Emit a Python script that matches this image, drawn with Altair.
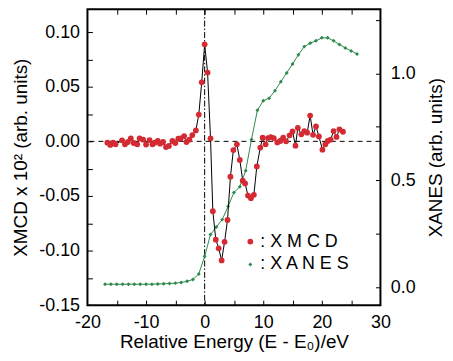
import altair as alt
import pandas as pd

# XMCD (left axis)
xmcd_e = [-16.6, -16.1, -15.6, -15.2, -14.1, -13.6, -13.1, -12.6, -12.1, -11.5,
          -11.1, -10.5, -10.0, -9.4, -8.9, -8.5, -8.0, -7.6, -7.1, -6.6,
          -6.1, -5.5, -5.0, -4.5, -4.1, -3.5, -3.1, -2.6, -2.1, -1.5,
          -1.0, -0.5, 0.0, 0.5, 1.0, 1.4, 1.9, 2.4, 2.9, 3.4,
          3.9, 4.4, 4.9, 5.5, 6.0, 6.5, 6.9, 7.4, 7.9, 8.4,
          8.9, 9.5, 9.9, 10.4, 10.8, 11.3, 11.8, 12.4, 12.9, 13.4,
          13.9, 14.5, 15.0, 15.5, 15.9, 16.5, 17.0, 17.5, 18.0, 18.5,
          19.0, 19.5, 20.1, 20.6, 21.0, 21.5, 22.0, 22.5, 23.0, 23.6]
xmcd_v = [-0.0012, -0.0033, -0.0012, -0.0027, 0.0009, -0.0027, -0.0006, 0.0027, -0.0015, -0.0027,
          0.0027, 0.0015, -0.0030, 0.0012, -0.0027, -0.0012, 0.0003, -0.0021, -0.0006, -0.0052,
          -0.0042, 0.0003, -0.0015, 0.0024, 0.0027, 0.0048, -0.0006, 0.0015, 0.0057, 0.0100,
          0.0245, 0.0540, 0.0888, 0.0630, 0.0027, -0.0640, -0.0900, -0.0980, -0.1090, -0.0920,
          -0.0720, -0.0324, -0.0080, -0.0027, -0.0170, -0.0360, -0.0385, -0.0497, -0.0520, -0.0490,
          -0.0230, -0.0057, 0.0033, -0.0027, 0.0030, 0.0039, 0.0030, -0.0010, 0.0003, 0.0033,
          0.0000, 0.0055, 0.0090, -0.0040, 0.0124, 0.0064, 0.0094, 0.0079, 0.0236, 0.0060,
          0.0136, 0.0045, -0.0076, -0.0027, 0.0003, 0.0015, 0.0094, 0.0040, 0.0110, 0.0088]

# XANES (right axis)
xanes_e = [-17, -16, -15, -14, -13, -12, -11, -10, -9, -8, -7, -6, -5, -4, -3, -2, -1,
           0, 1, 2, 3, 4, 5, 6, 7, 8, 9, 10, 11, 12, 13, 14, 15, 16, 17, 18, 19, 20,
           21, 22, 23, 24, 25, 26]
xanes_v = [0.014, 0.014, 0.014, 0.014, 0.014, 0.014, 0.014, 0.014, 0.014, 0.015, 0.016,
           0.017, 0.019, 0.022, 0.028, 0.036, 0.062,
           0.145, 0.246, 0.282, 0.316, 0.378, 0.443, 0.470, 0.545, 0.691, 0.827, 0.872,
           0.884, 0.919, 0.961, 1.002, 1.044, 1.087, 1.125, 1.141, 1.152, 1.166,
           1.166, 1.152, 1.135, 1.119, 1.105, 1.091]

x_label_ticks = [-20, -10, 0, 10, 20, 30]
x_minor_ticks = [-15, -10, -5, 0, 5, 10, 15, 20, 25]
yl_label_ticks = [-0.15, -0.10, -0.05, 0.0, 0.05, 0.10]
yl_minor_ticks = [-0.125, -0.10, -0.075, -0.05, -0.025, 0.0, 0.025, 0.05, 0.075, 0.10]
yr_label_ticks = [0.0, 0.5, 1.0]
yr_minor_ticks = [0.0, 0.25, 0.5, 0.75, 1.0, 1.25]
series = ["XMCD", "XANES"]
legend_text = [": X M C D", ": X A N E S"]
colors = ["#d42a33", "#2f8a4c"]

W, H = 295, 298
FONT = "Liberation Sans"

xmcd = pd.DataFrame({"E": xmcd_e, "v": xmcd_v, "series": "XMCD"})
xanes = pd.DataFrame({"E": xanes_e, "v": xanes_v, "series": "XANES"})

xs = alt.Scale(domain=[-20, 30], nice=False, zero=False)
yls = alt.Scale(domain=[-0.15, 0.121], nice=False, zero=False)
yrs = alt.Scale(domain=[-0.084, 1.30], nice=False, zero=False)

fix_minus = "replace(format(datum.value, '{f}'), '\u2212', '-')"
tick_ax = dict(labels=False, ticks=True, tickSize=5, tickColor="black", tickWidth=1,
               domain=False, grid=False, title=None)
lab_ax = dict(ticks=False, domain=False, grid=False, labelFlush=False, labelOverlap=False,
              labelFont=FONT, labelColor="black", labelFontSize=18,
              titleFont=FONT, titleColor="black", titleFontWeight="normal", titleFontSize=19)

leg = alt.Legend(orient="none", legendX=155, legendY=225, title=None,
                 labelExpr=f"datum.label == '{series[0]}' ? '{legend_text[0]}' : '{legend_text[1]}'",
                 labelFontSize=18, labelFont=FONT, labelColor="black", padding=0,
                 rowPadding=5, labelOffset=1)
color_enc = alt.Color("series:N", scale=alt.Scale(domain=series, range=colors), legend=leg)
shape_enc = alt.Shape("series:N", scale=alt.Scale(domain=series, range=["circle", "diamond"]), legend=leg)
size_enc = alt.Size("series:N", scale=alt.Scale(domain=series, range=[34, 16]), legend=leg)

hrule = alt.Chart(pd.DataFrame({"y": [0.0]})).mark_rule(
    color="black", strokeWidth=1, strokeDash=[5, 4]
).encode(y=alt.Y("y:Q", scale=yls, axis=None))

vrule = alt.Chart(pd.DataFrame({"x": [0.0]})).mark_rule(
    color="black", strokeWidth=1, strokeDash=[6, 2, 1.5, 2]
).encode(x=alt.X("x:Q", scale=xs, axis=None))

xanes_line = alt.Chart(xanes).mark_line(color=colors[1], strokeWidth=1).encode(
    x=alt.X("E:Q", scale=xs, axis=alt.Axis(orient="bottom", offset=-H, values=x_minor_ticks, **tick_ax)),
    y=alt.Y("v:Q", scale=yrs, axis=alt.Axis(
        orient="right", values=yr_label_ticks, labelExpr=fix_minus.format(f=".1f"),
        labelPadding=10, title="XANES  (arb. units)", titleAngle=270, titlePadding=30, **lab_ax)),
)
xanes_pts = alt.Chart(xanes).mark_point(filled=True, opacity=1).encode(
    x=alt.X("E:Q", scale=xs, axis=None),
    y=alt.Y("v:Q", scale=yrs, axis=alt.Axis(orient="left", offset=-W, values=yr_minor_ticks, **tick_ax)),
    color=color_enc, shape=shape_enc, size=size_enc,
)
xmcd_line = alt.Chart(xmcd).mark_line(color="black", strokeWidth=1).encode(
    x=alt.X("E:Q", scale=xs, axis=alt.Axis(
        orient="bottom", values=x_label_ticks, labelExpr=fix_minus.format(f="d"),
        labelPadding=8, title="Relative Energy  (E - E\u2080)/eV", titlePadding=2, **lab_ax)),
    y=alt.Y("v:Q", scale=yls, axis=alt.Axis(
        orient="left", values=yl_label_ticks, labelExpr=fix_minus.format(f=".2f"),
        labelPadding=8, title="XMCD x 10\u00b2  (arb. units)", titlePadding=8, **lab_ax)),
)
xmcd_pts = alt.Chart(xmcd).mark_point(filled=True, opacity=1).encode(
    x=alt.X("E:Q", scale=xs, axis=alt.Axis(orient="top", offset=-H, values=x_minor_ticks, **tick_ax)),
    y=alt.Y("v:Q", scale=yls, axis=alt.Axis(orient="right", offset=-W, values=yl_minor_ticks, **tick_ax)),
    color=color_enc, shape=shape_enc, size=size_enc,
)

chart = alt.layer(hrule, vrule, xanes_line, xanes_pts, xmcd_line, xmcd_pts).resolve_scale(
    y="independent"
).resolve_axis(
    x="independent", y="independent"
).properties(
    width=W, height=H, background="white",
    autosize=alt.AutoSizeParams(type="none"),
    padding={"left": 80, "top": 0, "right": 65, "bottom": 53},
).configure_view(
    stroke="black", strokeWidth=2
)

chart.save("out.html", embed_options={"renderer": "svg", "actions": False})
